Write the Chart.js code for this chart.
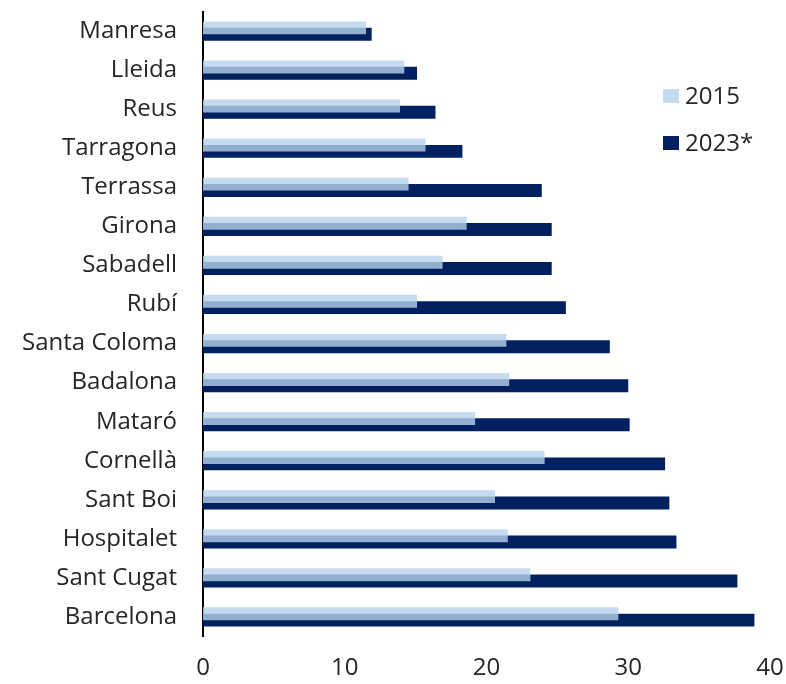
<!DOCTYPE html>
<html>
<head>
<meta charset="utf-8">
<script src="https://cdn.jsdelivr.net/npm/chart.js@4.4.1/dist/chart.umd.min.js"></script>
<style>
  html, body { margin: 0; padding: 0; background: #fff; }
  #wrap { width: 786px; height: 684px; position: relative; }
</style>
</head>
<body>
<div id="wrap"><canvas id="chart"></canvas></div>
<script>
// cities, top to bottom
const cities = ['Manresa', 'Lleida', 'Reus', 'Tarragona', 'Terrassa', 'Girona', 'Sabadell', 'Rubí',
    'Santa Coloma', 'Badalona', 'Mataró', 'Cornellà', 'Sant Boi', 'Hospitalet', 'Sant Cugat', 'Barcelona'];
const values2015 = [11.5, 14.2, 13.9, 15.7, 14.5, 18.6, 16.9, 15.1, 21.4, 21.6, 19.2, 24.1, 20.6, 21.5, 23.1, 29.3];
const values2023 = [11.9, 15.1, 16.4, 18.3, 23.9, 24.6, 24.6, 25.6, 28.7, 30.0, 30.1, 32.6, 32.9, 33.4, 37.7, 38.9];
const seriesNames = ['2015', '2023*'];
const xTicks = [0, 10, 20, 30, 40];

const FONT = '"Open Sans", sans-serif';
const TEXT = '#262626';
const LIGHT = 'rgba(183, 211, 236, 0.8)';
const DARK = '#002060';

// legend drawn inside the plot, right side
const sideLegend = {
    id: 'sideLegend',
    afterDraw(chart) {
        const ctx = chart.ctx;
        const area = chart.chartArea;
        const x = area.right - 107;
        const rows = [{ y: 96, c: LIGHT }, { y: 143, c: DARK }];
        ctx.save();
        ctx.font = '24px ' + FONT;
        ctx.textBaseline = 'middle';
        rows.forEach(function (r, i) {
            ctx.fillStyle = '#ffffff';
            ctx.fillRect(x, r.y - 7, 16, 14);
            ctx.fillStyle = r.c;
            ctx.fillRect(x, r.y - 7, 16, 14);
            ctx.fillStyle = TEXT;
            ctx.fillText(seriesNames[i], x + 22, r.y + 1);
        });
        ctx.restore();
    }
};

new Chart(document.getElementById('chart'), {
    type: 'bar',
    data: {
        labels: cities,
        datasets: [{
            label: seriesNames[0],
            data: values2015,
            backgroundColor: LIGHT,
            categoryPercentage: 0.3225,
            barPercentage: 2.06
        }, {
            label: seriesNames[1],
            data: values2023,
            backgroundColor: DARK,
            categoryPercentage: 0.3225,
            barPercentage: 2.06
        }]
    },
    options: {
        indexAxis: 'y',
        responsive: true,
        maintainAspectRatio: false,
        animation: false,
        layout: { padding: { top: 11.5, right: 16, bottom: 0, left: 0 } },
        plugins: {
            legend: { display: false },
            tooltip: { enabled: false }
        },
        scales: {
            x: {
                min: 0,
                max: 40,
                afterBuildTicks: function (axis) {
                    axis.ticks = xTicks.map(function (v) { return { value: v }; });
                },
                afterFit: function (scale) {
                    scale.height = 47.5;
                    scale.paddingLeft = 0;
                    scale.paddingRight = 0;
                },
                grid: { display: false },
                border: { display: false },
                ticks: { color: TEXT, font: { family: FONT, size: 24 }, padding: 9, maxRotation: 0 }
            },
            y: {
                afterFit: function (scale) {
                    scale.width = 203;
                    scale.paddingTop = 0;
                    scale.paddingBottom = 0;
                },
                grid: { display: false },
                border: { display: true, color: '#000', width: 2 },
                ticks: { color: TEXT, font: { family: FONT, size: 24 }, padding: 18, autoSkip: false }
            }
        }
    },
    plugins: [sideLegend]
});
</script>
</body>
</html>
